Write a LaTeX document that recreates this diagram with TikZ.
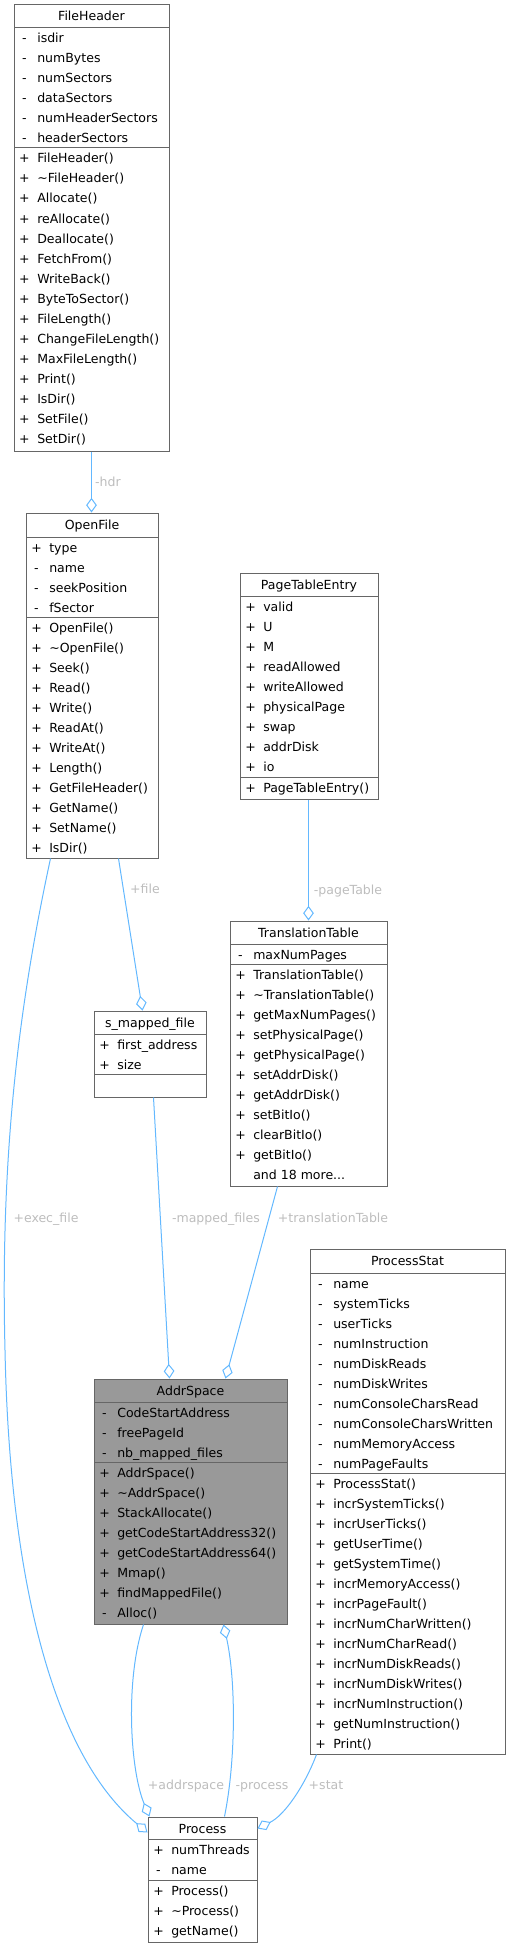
\documentclass[tikz,border=0pt]{standalone}
\usepackage{fontspec}
\setmainfont{DejaVu Sans}
\usetikzlibrary{arrows.meta,calc,fit}

\definecolor{edgeblue}{HTML}{63B8FF}
\definecolor{boxgray}{HTML}{666666}
\definecolor{focusgray}{HTML}{999999}
\definecolor{lblgray}{HTML}{BDBDBD}

\tikzset{
  cls/.style={draw=boxgray, line width=0.75pt, inner sep=0pt, fill=white},
  focus/.style={cls, fill=focusgray},
  sep/.style={draw=boxgray, line width=0.75pt},
  ttl/.style={font=\fontsize{9.4}{11}\selectfont, anchor=base, inner sep=0pt},
  mem/.style={font=\fontsize{9.4}{11}\selectfont, anchor=base west, inner sep=0pt},
  vis/.style={font=\fontsize{9.4}{11}\selectfont, anchor=base, inner sep=0pt},
  lbl/.style={font=\fontsize{9.4}{11}\selectfont, text=lblgray, anchor=base, inner sep=0pt},
  agg/.style={draw=edgeblue, line width=0.75pt, -{Diamond[open,length=11pt,width=8pt]}},
}

\newcommand{\moredots}{.\kern0pt.\kern0pt.}

% one row per member: visibility / name
\newcommand{\memberrows}[4]{%
  \foreach \sym/\nm [count=\i] in {#4}{
    \node[vis] (#1-v\i) at (#2+10.5,#3+\i*20-5) {\sym};
    \node[mem] (#1-\i) at (#2+23,#3+\i*20-5) {\nm};
  }}

\begin{document}
\begin{tikzpicture}[x=0.75pt,y=-0.75pt]
\useasboundingbox (0,0) rectangle (510,1948);

% FileHeader
\node[cls, fit={(14,5) (169,451)}] (fileheader) {};
\node[ttl] (fileheader-name) at ($(fileheader.north)+(0,16.5)$) {FileHeader};
\draw[sep] (14,28) -- (169,28);
\draw[sep] (14,148) -- (169,148);
\memberrows{fha}{14}{28}{-/isdir, -/numBytes, -/numSectors, -/dataSectors, -/numHeaderSectors, -/headerSectors}
\memberrows{fhm}{14}{148}{+/FileHeader(), +/\textasciitilde FileHeader(), +/Allocate(), +/reAllocate(), +/Deallocate(), +/FetchFrom(), +/WriteBack(), +/ByteToSector(), +/FileLength(), +/ChangeFileLength(), +/MaxFileLength(), +/Print(), +/IsDir(), +/SetFile(), +/SetDir()}

% OpenFile
\node[cls, fit={(26,513) (158,858)}] (openfile) {};
\node[ttl] (openfile-name) at ($(openfile.north)+(0,16.5)$) {OpenFile};
\draw[sep] (26,537) -- (158,537);
\draw[sep] (26,617) -- (158,617);
\memberrows{ofa}{26}{537}{+/type, -/name, -/seekPosition, -/fSector}
\memberrows{ofm}{26}{617}{+/OpenFile(), +/\textasciitilde OpenFile(), +/Seek(), +/Read(), +/Write(), +/ReadAt(), +/WriteAt(), +/Length(), +/GetFileHeader(), +/GetName(), +/SetName(), +/IsDir()}

% PageTableEntry
\node[cls, fit={(240,573) (378,799)}] (pte) {};
\node[ttl] (pte-name) at ($(pte.north)+(0,16.5)$) {PageTableEntry};
\draw[sep] (240,596) -- (378,596);
\draw[sep] (240,777) -- (378,777);
\memberrows{ptea}{240}{596}{+/valid, +/U, +/M, +/readAllowed, +/writeAllowed, +/physicalPage, +/swap, +/addrDisk, +/io}
\memberrows{ptem}{240}{777}{+/PageTableEntry()}

% TranslationTable
\node[cls, fit={(230,921) (387,1186)}] (transtable) {};
\node[ttl] (transtable-name) at ($(transtable.north)+(0,16.5)$) {TranslationTable};
\draw[sep] (230,944) -- (387,944);
\draw[sep] (230,964) -- (387,964);
\memberrows{tta}{230}{944}{-/maxNumPages}
\memberrows{ttm}{230}{964}{+/TranslationTable(), +/\textasciitilde TranslationTable(), +/getMaxNumPages(), +/setPhysicalPage(), +/getPhysicalPage(), +/setAddrDisk(), +/getAddrDisk(), +/setBitIo(), +/clearBitIo(), +/getBitIo(), {}/{and 18 more\moredots}}

% s_mapped_file
\node[cls, fit={(94,1011) (206,1097)}] (smapped) {};
\node[ttl] (smapped-name) at ($(smapped.north)+(0,16.5)$) {s\_mapped\_file};
\draw[sep] (94,1034) -- (206,1034);
\draw[sep] (94,1074) -- (206,1074);
\memberrows{sma}{94}{1034}{+/first\_address, +/size}

% AddrSpace
\node[focus, fit={(94,1379) (287,1624)}] (addrspace) {};
\node[ttl] (addrspace-name) at ($(addrspace.north)+(0,16.5)$) {AddrSpace};
\draw[sep] (94,1402) -- (287,1402);
\draw[sep] (94,1462) -- (287,1462);
\memberrows{asa}{94}{1402}{-/CodeStartAddress, -/freePageId, -/nb\_mapped\_files}
\memberrows{asm}{94}{1462}{+/AddrSpace(), +/\textasciitilde AddrSpace(), +/StackAllocate(), +/getCodeStartAddress32(), +/getCodeStartAddress64(), +/Mmap(), +/findMappedFile(), -/Alloc()}

% ProcessStat
\node[cls, fit={(310,1249) (505,1754)}] (procstat) {};
\node[ttl] (procstat-name) at ($(procstat.north)+(0,16.5)$) {ProcessStat};
\draw[sep] (310,1273) -- (505,1273);
\draw[sep] (310,1473) -- (505,1473);
\memberrows{psa}{310}{1273}{-/name, -/systemTicks, -/userTicks, -/numInstruction, -/numDiskReads, -/numDiskWrites, -/numConsoleCharsRead, -/numConsoleCharsWritten, -/numMemoryAccess, -/numPageFaults}
\memberrows{psm}{310}{1473}{+/ProcessStat(), +/incrSystemTicks(), +/incrUserTicks(), +/getUserTime(), +/getSystemTime(), +/incrMemoryAccess(), +/incrPageFault(), +/incrNumCharWritten(), +/incrNumCharRead(), +/incrNumDiskReads(), +/incrNumDiskWrites(), +/incrNumInstruction(), +/getNumInstruction(), +/Print()}

% Process
\node[cls, fit={(148,1817) (257,1942)}] (process) {};
\node[ttl] (process-name) at ($(process.north)+(0,16.5)$) {Process};
\draw[sep] (148,1839) -- (257,1839);
\draw[sep] (148,1880) -- (257,1880);
\memberrows{pra}{148}{1839}{+/numThreads, -/name}
\memberrows{prm}{148}{1880}{+/Process(), +/\textasciitilde Process(), +/getName()}

% aggregations
\draw[agg] ($(fileheader.south west)+(78,0)$) -- ($(openfile.north west)+(66,0)$);
\draw[agg] ($(openfile.south west)+(93,0)$) -- ($(smapped.north west)+(49,0)$);
\draw[agg] ($(pte.south west)+(69,0)$) -- ($(transtable.north west)+(79,0)$);
\draw[agg] ($(smapped.south west)+(60,0)$) -- ($(addrspace.north west)+(76,0)$);
\draw[agg] ($(transtable.south west)+(48,0)$) -- ($(addrspace.north west)+(132,0)$);
\draw[agg] ($(openfile.south west)+(25,0)$) .. controls (20,1000) and (0,1150) .. (5,1350)
  .. controls (10,1600) and (60,1760) .. ($(process.north west)+(0,16)$);
\draw[agg] ($(addrspace.south west)+(50,0)$) .. controls (125,1680) and (130,1770) .. ($(process.north west)+(2,0)$);
\draw[agg] ($(process.north west)+(77,0)$) .. controls (236,1760) and (236,1680) .. ($(addrspace.south west)+(130,0)$);
\draw[agg] ($(procstat.south west)+(7,0)$) .. controls (305,1785) and (285,1815) .. ($(process.north east)+(0,12)$);

% edge labels
\node[lbl] (l-hdr) at (108,486) {-hdr};
\node[lbl] (l-file) at (145,893) {+file};
\node[lbl] (l-pagetable) at (348,894) {-pageTable};
\node[lbl] (l-execfile) at (46,1222) {+exec\_file};
\node[lbl] (l-mapped) at (216,1222) {-mapped\_files};
\node[lbl] (l-transtable) at (333,1222) {+translationTable};
\node[lbl] (l-addrspace) at (186,1789) {+addrspace};
\node[lbl] (l-process) at (262,1789) {-process};
\node[lbl] (l-stat) at (326,1789) {+stat};
\end{tikzpicture}
\end{document}
